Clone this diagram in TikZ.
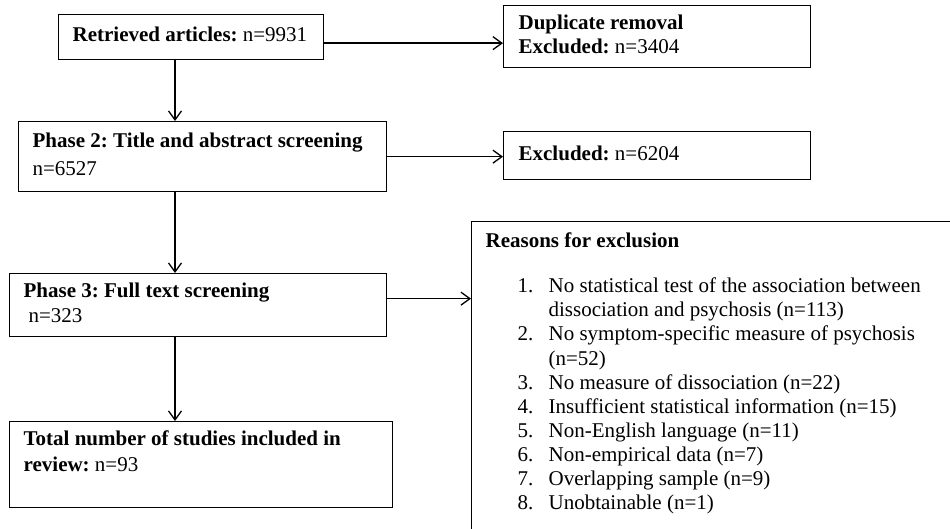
\documentclass[tikz,border=0pt]{standalone}
\usepackage{fontspec}
\setmainfont{Liberation Serif}
\usepackage{tikz}
\usetikzlibrary{arrows.meta}

\newcommand{\reason}[2]{\hspace*{32pt}\makebox[31pt][l]{#1}#2}

\begin{document}
\begin{tikzpicture}[x=1pt, y=-1pt, line width=1.3pt,
    box/.style = {draw, anchor=north west, align=flush left, inner xsep=14pt, inner ysep=0pt,
                  font={\fontsize{21}{24.15}\selectfont\frenchspacing},
                  execute at begin node={\hyphenpenalty=10000 \strut}, execute at end node=\strut},
    arr/.style = {-{Straight Barb[length=9pt, width=13pt]}}]
        \useasboundingbox (0,0) rectangle (950,529);
        \clip (0,0) rectangle (950,529);

        \node[box, text width=237pt, minimum height=45pt] (ret) at (58,14) {\textbf{Retrieved articles:} n=9931};
        \node[box, inner xsep=15pt, text width=277pt, minimum height=62pt] (dup) at (503,5) {\textbf{Duplicate removal}\\ \textbf{Excluded:} n=3404};
        \node[box, text width=340pt, minimum height=70pt] (scr) at (18,121) {\textbf{Phase 2: Title and abstract screening}\\[3.85pt] n=6527};
        \node[box, inner xsep=15pt, text width=277pt, minimum height=48pt] (exc) at (503,131) {\textbf{Excluded:} n=6204};
        \node[box, text width=349pt, minimum height=63pt] (full) at (9,273) {\textbf{Phase 3: Full text screening}\\ \hspace*{5pt}n=323};
        \node[box, text width=355pt, minimum height=86pt] (tot) at (9,421) {\textbf{Total number of studies included in}\\[1.85pt] \textbf{review:} n=93\rule[-28.9pt]{0pt}{1pt}};

        % exclusion reasons, box runs off the page
        \node[box, inner ysep=9pt, text width=480pt] (why) at (471,221) {\textbf{Reasons for exclusion}\\[20.85pt]
            \reason{1.}{No statistical test of the association between}\\
            \hspace*{63pt}dissociation and psychosis (n=113)\\
            \reason{2.}{No symptom-specific measure of psychosis}\\
            \hspace*{63pt}(n=52)\\
            \reason{3.}{No measure of dissociation (n=22)}\\
            \reason{4.}{Insufficient statistical information (n=15)}\\
            \reason{5.}{Non-English language (n=11)}\\
            \reason{6.}{Non-empirical data (n=7)}\\
            \reason{7.}{Overlapping sample (n=9)}\\
            \reason{8.}{Unobtainable (n=1)}\rule[-30pt]{0pt}{1pt}};

        \coordinate (spine) at (175,0);

        \draw[arr] (ret.south -| spine) -- (scr.north -| spine);
        \draw[arr] (scr.south -| spine) -- (full.north -| spine);
        \draw[arr] (full.south -| spine) -- (tot.north -| spine);

        \draw[arr] ([yshift=-6pt]ret.east) -- ([yshift=-6pt]ret.east -| dup.west);
        \draw[arr] (scr.east) -- (scr.east -| exc.west);
        \draw[arr] ([yshift=6.5pt]full.east) -- ([yshift=6.5pt]full.east -| why.west); % to reasons
      \end{tikzpicture}
\end{document}
